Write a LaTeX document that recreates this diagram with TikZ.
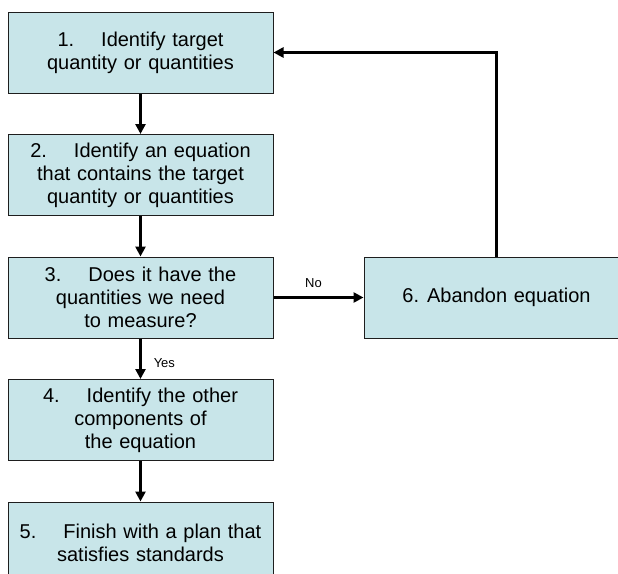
\documentclass[tikz,border=0pt]{standalone}
\usepackage{fontspec}
\setmainfont{Liberation Sans}
\usetikzlibrary{arrows.meta,positioning}
\definecolor{aqua}{RGB}{200,229,233}
\definecolor{ink}{RGB}{30,30,30}
\tikzset{
  >={Triangle[length=10pt,width=10pt]},
  stepbox/.style={draw=ink,fill=aqua,line width=1pt,minimum width=265pt,
    minimum height=81pt,text width=255pt,align=center,inner sep=0pt,
    font=\fontsize{20}{23}\selectfont},
  flow/.style={->,line width=2.5pt,draw=#1},
  flow/.default=black,
  tag/.style={font=\fontsize{13}{15}\selectfont,text=black,inner sep=0pt},
}
\newcommand{\stepno}[1]{#1\hspace{27pt}}

\begin{document}
\begin{tikzpicture}[x=1pt,y=-1pt,node distance=40.5pt]
    \useasboundingbox (0,0) rectangle (618,573);
    % boxes
    \node[stepbox] (b1) at (140.5,52.5) {\stepno{1.}Identify target\\quantity or quantities};
    \node[stepbox,below=of b1] (b2) {\stepno{2.}Identify an equation\\that contains the target\\quantity or quantities};
    \node[stepbox,below=of b2] (b3) {\stepno{3.}Does it have the\\quantities we need\\to measure?};
    \node[stepbox,below=of b3] (b4) {\stepno{4.}Identify the other\\components of\\the equation};
    \node[stepbox,below=of b4] (b5) {\stepno{5.}Finish with a plan that\\satisfies standards};
    \node[stepbox,right=90pt of b3] (b6) {6.\hspace{8pt}Abandon equation};
    % arrows
    \draw[flow] (b1) -- (b2);
    \draw[flow] (b2) -- (b3);
    \draw[flow] (b3) -- node[tag,pos=0.6,anchor=west,xshift=12pt] (yes) {Yes} (b4);
    \draw[flow] (b4) -- (b5);
    \draw[flow] (b3) -- node[tag,above=9pt,xshift=-5pt] (no) {No} (b6);
    \draw[flow] (b6.north) |- (b1.east);
  \end{tikzpicture}
\end{document}
